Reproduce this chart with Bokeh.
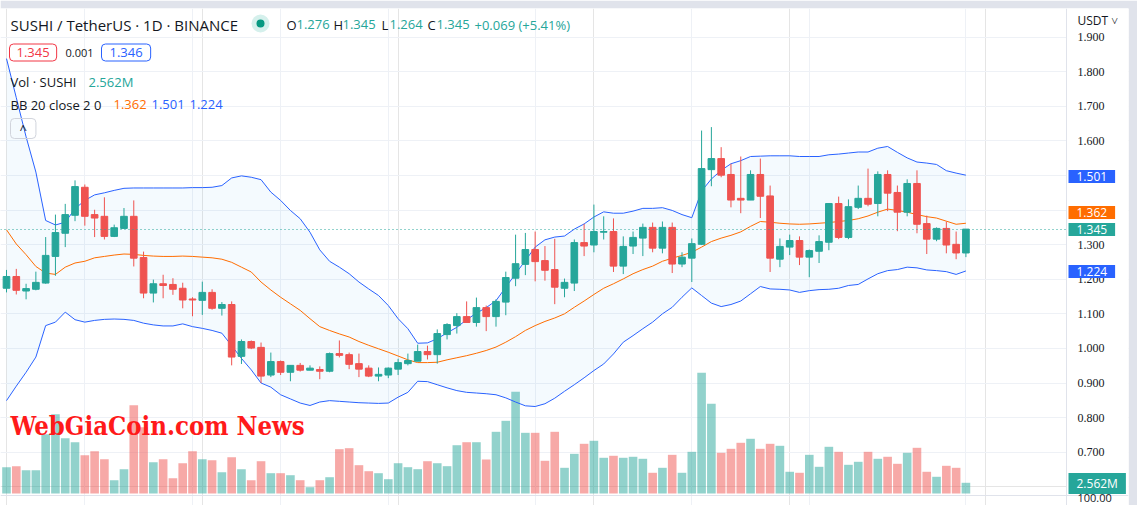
import numpy as np
from bokeh.plotting import figure
from bokeh.models import Range1d, FixedTicker, Label, Grid
from bokeh.embed import file_html
from bokeh.resources import INLINE

# ---------------- data ----------------
open_ = [1.174, 1.208, 1.166, 1.171, 1.189, 1.266, 1.333, 1.385, 1.466, 1.387,
         1.382, 1.324, 1.347, 1.382, 1.263, 1.160, 1.187, 1.185, 1.174, 1.143,
         1.139, 1.162, 1.116, 1.127, 0.977, 1.020, 1.003, 0.923, 0.962, 0.931,
         0.951, 0.937, 0.939, 0.934, 0.985, 0.982, 0.956, 0.943, 0.920, 0.923,
         0.940, 0.956, 0.963, 0.991, 0.982, 1.040, 1.066, 1.092, 1.075, 1.118,
         1.092, 1.134, 1.203, 1.243, 1.286, 1.254, 1.228, 1.174, 1.189, 1.306,
         1.299, 1.336, 1.338, 1.238, 1.296, 1.319, 1.350, 1.290, 1.350, 1.244,
         1.261, 1.301, 1.517, 1.549, 1.503, 1.434, 1.429, 1.503, 1.441, 1.258,
         1.293, 1.312, 1.264, 1.281, 1.307, 1.419, 1.321, 1.408, 1.434, 1.419,
         1.503, 1.451, 1.394, 1.477, 1.361, 1.316, 1.347, 1.301, 1.276]
high = [1.227, 1.230, 1.187, 1.222, 1.322, 1.387, 1.418, 1.486, 1.474, 1.401,
        1.437, 1.358, 1.406, 1.428, 1.280, 1.199, 1.213, 1.203, 1.190, 1.148,
        1.193, 1.171, 1.134, 1.136, 1.026, 1.023, 1.017, 0.988, 0.965, 0.951,
        0.958, 0.951, 0.948, 0.988, 1.023, 0.988, 0.985, 0.951, 0.945, 0.945,
        0.970, 0.985, 1.011, 1.008, 1.055, 1.073, 1.102, 1.136, 1.147, 1.124,
        1.142, 1.222, 1.329, 1.334, 1.338, 1.296, 1.317, 1.202, 1.315, 1.360,
        1.416, 1.382, 1.376, 1.324, 1.338, 1.361, 1.364, 1.367, 1.364, 1.278,
        1.318, 1.630, 1.640, 1.582, 1.534, 1.555, 1.515, 1.549, 1.471, 1.318,
        1.329, 1.324, 1.286, 1.327, 1.419, 1.439, 1.431, 1.471, 1.520, 1.512,
        1.515, 1.471, 1.489, 1.515, 1.384, 1.350, 1.367, 1.338, 1.345]
low = [1.162, 1.156, 1.142, 1.168, 1.187, 1.210, 1.293, 1.368, 1.355, 1.322,
       1.315, 1.322, 1.347, 1.237, 1.145, 1.133, 1.145, 1.155, 1.116, 1.093,
       1.097, 1.112, 1.095, 0.951, 0.955, 0.998, 0.900, 0.917, 0.923, 0.905,
       0.933, 0.937, 0.911, 0.931, 0.974, 0.940, 0.917, 0.917, 0.905, 0.914,
       0.923, 0.951, 0.963, 0.968, 0.956, 1.026, 1.043, 1.075, 1.063, 1.050,
       1.063, 1.096, 1.180, 1.212, 1.194, 1.196, 1.128, 1.148, 1.166, 1.267,
       1.278, 1.315, 1.221, 1.215, 1.273, 1.267, 1.278, 1.275, 1.218, 1.235,
       1.192, 1.299, 1.469, 1.495, 1.408, 1.391, 1.429, 1.377, 1.221, 1.235,
       1.270, 1.241, 1.206, 1.247, 1.284, 1.316, 1.316, 1.403, 1.411, 1.382,
       1.397, 1.339, 1.382, 1.333, 1.273, 1.310, 1.275, 1.258, 1.264]
close = [1.208, 1.168, 1.173, 1.191, 1.269, 1.335, 1.387, 1.468, 1.382, 1.377,
         1.324, 1.349, 1.382, 1.261, 1.160, 1.187, 1.182, 1.171, 1.140, 1.140,
         1.162, 1.116, 1.127, 0.975, 1.020, 1.001, 0.920, 0.962, 0.931, 0.951,
         0.937, 0.943, 0.934, 0.985, 0.980, 0.954, 0.940, 0.920, 0.925, 0.943,
         0.959, 0.965, 0.991, 0.982, 1.043, 1.069, 1.092, 1.075, 1.118, 1.092,
         1.136, 1.205, 1.245, 1.286, 1.251, 1.226, 1.177, 1.191, 1.306, 1.296,
         1.338, 1.338, 1.238, 1.295, 1.321, 1.350, 1.290, 1.350, 1.244, 1.264,
         1.303, 1.520, 1.549, 1.501, 1.429, 1.429, 1.503, 1.440, 1.261, 1.295,
         1.312, 1.264, 1.283, 1.309, 1.419, 1.321, 1.410, 1.434, 1.417, 1.503,
         1.449, 1.394, 1.477, 1.359, 1.316, 1.347, 1.299, 1.276, 1.345]
# volume, millions of SUSHI
volume = [6.30, 6.54, 5.58, 5.58, 14.20, 18.98, 13.24, 12.28, 9.17, 10.13,
          8.21, 3.18, 5.82, 21.14, 15.87, 7.49, 8.21, 3.66, 7.25, 10.13,
          8.21, 7.97, 5.10, 8.69, 5.82, 3.18, 7.73, 4.86, 4.86, 4.38,
          3.18, 1.51, 3.18, 3.90, 10.61, 10.85, 6.78, 5.34, 4.86, 3.42,
          7.25, 6.30, 5.82, 7.73, 7.25, 6.54, 11.56, 12.28, 12.28, 8.14,
          14.77, 17.40, 24.35, 14.53, 14.53, 7.83, 14.77, 6.15, 9.50, 11.90,
          12.62, 8.55, 9.03, 8.55, 8.79, 8.31, 4.96, 6.15, 9.26, 4.96,
          9.98, 28.90, 21.47, 9.74, 10.70, 12.14, 13.10, 10.70, 11.90, 11.42,
          5.20, 4.96, 9.26, 6.39, 11.18, 9.98, 6.87, 7.59, 9.98, 8.31,
          8.79, 7.11, 9.74, 10.94, 5.20, 4.00, 6.63, 6.15, 2.562]
bb_upper = [1.838, 1.725, 1.612, 1.510, 1.370, 1.357, 1.365, 1.404, 1.428, 1.444,
            1.450, 1.457, 1.463, 1.464, 1.464, 1.464, 1.464, 1.464, 1.464, 1.465,
            1.465, 1.466, 1.471, 1.493, 1.499, 1.495, 1.488, 1.452, 1.428, 1.399,
            1.375, 1.336, 1.285, 1.252, 1.235, 1.216, 1.192, 1.172, 1.153, 1.124,
            1.086, 1.057, 1.015, 1.016, 1.028, 1.045, 1.061, 1.083, 1.102, 1.118,
            1.138, 1.177, 1.216, 1.254, 1.293, 1.314, 1.322, 1.325, 1.345, 1.360,
            1.380, 1.395, 1.391, 1.391, 1.397, 1.405, 1.405, 1.407, 1.399, 1.387,
            1.378, 1.455, 1.490, 1.515, 1.534, 1.543, 1.555, 1.556, 1.557, 1.557,
            1.557, 1.555, 1.555, 1.555, 1.560, 1.562, 1.565, 1.568, 1.568, 1.579,
            1.584, 1.567, 1.551, 1.539, 1.536, 1.532, 1.514, 1.507, 1.501]
bb_mid = [1.343, 1.302, 1.271, 1.237, 1.218, 1.214, 1.235, 1.247, 1.252, 1.262,
          1.266, 1.270, 1.273, 1.272, 1.269, 1.267, 1.266, 1.266, 1.267, 1.266,
          1.264, 1.262, 1.258, 1.249, 1.235, 1.221, 1.192, 1.169, 1.148, 1.129,
          1.110, 1.086, 1.063, 1.052, 1.042, 1.033, 1.020, 1.009, 0.999, 0.989,
          0.978, 0.967, 0.959, 0.959, 0.960, 0.967, 0.973, 0.979, 0.986, 0.994,
          1.004, 1.018, 1.034, 1.052, 1.066, 1.078, 1.088, 1.100, 1.119, 1.137,
          1.156, 1.174, 1.187, 1.201, 1.216, 1.228, 1.238, 1.252, 1.261, 1.269,
          1.278, 1.293, 1.309, 1.319, 1.327, 1.337, 1.353, 1.367, 1.365, 1.362,
          1.360, 1.359, 1.360, 1.362, 1.364, 1.367, 1.370, 1.375, 1.383, 1.394,
          1.403, 1.399, 1.394, 1.387, 1.381, 1.377, 1.368, 1.359, 1.362]
bb_lower = [0.849, 0.891, 0.931, 0.975, 1.066, 1.076, 1.105, 1.083, 1.076, 1.081,
            1.084, 1.085, 1.084, 1.081, 1.073, 1.068, 1.065, 1.065, 1.071, 1.063,
            1.058, 1.052, 1.044, 1.008, 0.971, 0.938, 0.900, 0.888, 0.866, 0.854,
            0.842, 0.835, 0.845, 0.849, 0.847, 0.845, 0.843, 0.842, 0.841, 0.842,
            0.859, 0.873, 0.905, 0.904, 0.895, 0.886, 0.878, 0.873, 0.871, 0.869,
            0.866, 0.857, 0.845, 0.834, 0.832, 0.840, 0.856, 0.876, 0.895, 0.915,
            0.936, 0.955, 0.984, 1.018, 1.037, 1.057, 1.076, 1.100, 1.119, 1.148,
            1.175, 1.153, 1.131, 1.121, 1.127, 1.137, 1.158, 1.179, 1.172, 1.171,
            1.169, 1.162, 1.167, 1.170, 1.171, 1.174, 1.182, 1.185, 1.201, 1.216,
            1.225, 1.228, 1.235, 1.233, 1.227, 1.225, 1.222, 1.214, 1.224]
price_ticks = [0.7, 0.8, 0.9, 1.0, 1.1, 1.2, 1.3, 1.4, 1.5, 1.6, 1.7, 1.8, 1.9]
price_tick_labels = ["0.700", "0.800", "0.900", "1.000", "1.100", "1.200", "1.300",
                     "1.400", "1.500", "1.600", "1.700", "1.800", "1.900"]
date_grid_idx = [8, 19, 28, 39, 54, 70, 82, 98]

# ---------------- layout helpers (page pixels -> data) ----------------
FRAME_W, FRAME_H = 1128, 497          # frame covers page x 0..1128, y 8..505
STEP = 9.79                            # px per candle
X0 = -6 / STEP
X1 = X0 + FRAME_W / STEP
def py(page_y):
    return 1.9 - (page_y - 36.7) / 345.8
def px(page_x):
    return X0 + page_x / STEP
Y0, Y1 = py(505), py(8)
VPX = 2.562 / 10.7                      # million per px
VOL0, VOL1 = -(505 - 493) * VPX, (493 - 8) * VPX

GREEN, RED = "#26a69a", "#ef5350"
FONT = "Open Sans"
AXIS_X = 1066

idx = np.arange(len(close))
o = np.array(open_); c = np.array(close)
colors = [GREEN if cc >= oo else RED for oo, cc in zip(open_, close)]

p = figure(frame_width=FRAME_W, frame_height=FRAME_H,
           x_range=Range1d(X0, X1), y_range=Range1d(Y0, Y1),
           output_backend="svg", toolbar_location=None,
           x_axis_location=None, y_axis_location=None,
           min_border_left=0, min_border_top=8, min_border_bottom=0, min_border_right=9)
p.outline_line_color = None
p.background_fill_color = "white"
p.border_fill_color = "#e0e3eb"

p.add_layout(Grid(dimension=1, ticker=FixedTicker(ticks=price_ticks), grid_line_color="#eef1f6"))
p.add_layout(Grid(dimension=0, ticker=FixedTicker(ticks=date_grid_idx), grid_line_color="#eef1f6"))

# volume
p.extra_y_ranges = {"vol": Range1d(VOL0, VOL1)}
p.vbar(x=idx, top=volume, bottom=0, width=0.88, fill_color=colors, line_color=None,
       fill_alpha=0.5, y_range_name="vol")

# Bollinger bands
p.varea(x=idx, y1=bb_lower, y2=bb_upper, fill_color="#2196f3", fill_alpha=0.05)
p.line(idx, bb_upper, line_color="#2962ff", line_width=1)
p.line(idx, bb_lower, line_color="#2962ff", line_width=1)
p.line(idx, bb_mid, line_color="#ff6d00", line_width=1)

# candles
p.segment(x0=idx, y0=low, x1=idx, y1=high, line_color=colors, line_width=1)
p.vbar(x=idx, top=np.maximum(o, c), bottom=np.minimum(o, c), width=0.68,
       fill_color=colors, line_color=colors, line_width=1)

# last price dotted line
p.hspan(y=[close[-1]], line_color=GREEN, line_dash="1 3", line_width=1)

# price-scale panel
p.quad(left=[px(AXIS_X)], right=[X1], bottom=[Y0], top=[Y1], fill_color="white", line_color=None)
p.vspan(x=[px(AXIS_X)], line_color="#e0e3eb", line_width=1)
p.hspan(y=[py(494.5)], line_color="#e0e3eb", line_width=1)
p.text(x=[px(1077)] * len(price_ticks), y=price_ticks, text=price_tick_labels,
       text_font=FONT, text_font_size="12px", text_color="#131722",
       text_baseline="middle", text_align="left")

def lab(text, x, y, size="13px", color="#131722", **kw):
    p.add_layout(Label(x=px(x), y=py(y), text=text, text_font=kw.pop("font", FONT),
                       text_font_size=size, text_color=color, text_baseline="middle",
                       text_align="left", **kw))

# legend header
lab("SUSHI / TetherUS · 1D · BINANCE", 10, 24, size="15px")
p.scatter([px(260)], [py(23)], size=18, fill_color="#d5f0ec", line_color=None)
p.scatter([px(260)], [py(23)], size=8, fill_color="#089981", line_color=None)
for t, xx, col in [("O", 286, "#131722"), (f"{open_[-1]:.3f}", 296, GREEN),
                   ("H", 333, "#131722"), (f"{high[-1]:.3f}", 342, GREEN),
                   ("L", 381, "#131722"), (f"{low[-1]:.3f}", 389, GREEN),
                   ("C", 427, "#131722"), (f"{close[-1]:.3f}", 436, GREEN),
                   ("+0.069 (+5.41%)", 474, GREEN)]:
    lab(t, xx, 24, size="13px", color=col)

lab("1.345", 9, 52, size="13px", color="#f23645", border_line_color="#f23645",
    border_line_width=1, border_radius=4, padding=dict(left=7, right=7, top=4, bottom=4))
lab("0.001", 65, 52, size="11px")
lab("1.346", 101, 52, size="13px", color="#2962ff", border_line_color="#2962ff",
    border_line_width=1, border_radius=4, padding=dict(left=8, right=8, top=4, bottom=4))

lab("Vol · SUSHI", 10, 81, size="13px")
lab("2.562M", 88, 81, size="13px", color=GREEN)
lab("BB 20 close 2 0", 10, 104, size="13px")
lab("1.362", 113, 104, size="13px", color="#ff6d00")
lab("1.501", 151, 104, size="13px", color="#2962ff")
lab("1.224", 189, 104, size="13px", color="#2962ff")
lab("^", 10, 128, size="13px", border_line_color="#d1d4dc", border_line_width=1,
    border_radius=4, padding=dict(left=9, right=9, top=1, bottom=1))

# watermark
lab("WebGiaCoin.com News", 10, 425, size="25.5px", color="#ff1a1a",
    font="DejaVu Serif Condensed, DejaVu Serif", text_font_style="bold")

# price-scale labels
lab("USDT ˅", 1077, 20, size="12px")
lab("100.00", 1077, 497, size="11px")
for t, yy, bg in [("1.501", 176, "#2962ff"), ("1.362", 212, "#ff6d00"),
                  ("1.345", 229, GREEN), ("1.224", 271, "#2962ff"),
                  ("2.562M", 483, GREEN)]:
    lab(t, 1068, yy, size="12px", color="white", background_fill_color=bg,
        padding=dict(left=8, right=8, top=2, bottom=2))

open("out.html", "w").write(file_html(p, INLINE))
